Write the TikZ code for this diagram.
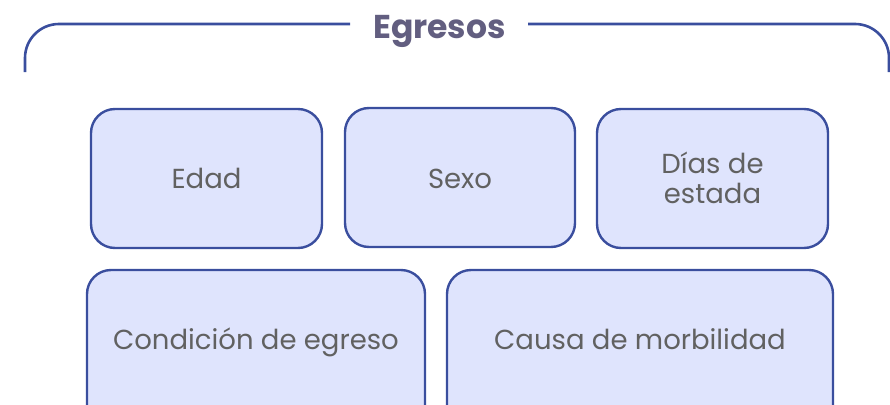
\documentclass[tikz,border=0pt]{standalone}
\usepackage{fontspec}
\setmainfont{Poppins}
\definecolor{bline}{HTML}{3A4E9E}
\definecolor{bfill}{HTML}{DFE4FD}
\definecolor{ttext}{HTML}{625E80}
\definecolor{gtext}{HTML}{616161}
\begin{document}
\begin{tikzpicture}[x=1pt,y=-1pt,
  itembox/.style={draw=bline,fill=bfill,line width=2.4pt,rounded corners=24pt},
  itemtext/.style={text=gtext,font=\fontsize{27.5}{30}\selectfont,align=center,anchor=base,inner sep=0pt},
  bracket/.style={draw=bline,line width=2.6pt,rounded corners=34pt}]
\useasboundingbox (0,0) rectangle (890,404);
\clip (0,0) rectangle (890,404);
\coordinate (la) at (25,72);
\coordinate (lb) at (350,24);
\coordinate (ra) at (528,24);
\coordinate (rb) at (889,72);
\draw[bracket] (la) -- (25,24) -- (lb);
\draw[bracket] (ra) -- (889,24) -- (rb);
\node[text=ttext,font=\bfseries\fontsize{33}{38}\selectfont,anchor=base,inner sep=0pt] (title) at (439.5,39) {Egresos};
\draw[itembox] (91,109) rectangle (322,248);
\node[itemtext] (edad) at (206.5,188) {Edad};
\draw[itembox] (345,108) rectangle (575,247);
\node[itemtext] (sexo) at (460,188) {Sexo};
\draw[itembox] (597,109) rectangle (828,248);
\node[itemtext] (dias) at (712.5,203) {Días de\\estada};
\draw[itembox] (87,270) rectangle (425,430);
\node[itemtext] (cond) at (256,349) {Condición de egreso};
\draw[itembox] (447,270) rectangle (833,430);
\node[itemtext] (causa) at (640,349) {Causa de morbilidad};
\end{tikzpicture}
\end{document}
